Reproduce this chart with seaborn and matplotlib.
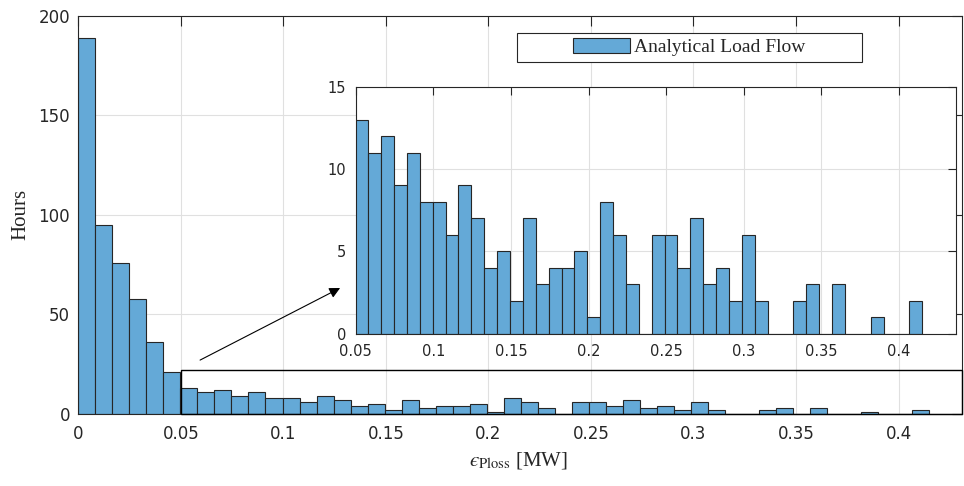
import numpy as np
import pandas as pd
import matplotlib
matplotlib.use("Agg")
import matplotlib.pyplot as plt
import seaborn as sns
from matplotlib.patches import Rectangle, Patch
from matplotlib.ticker import FuncFormatter

# Histogram of the power-loss error: hours per bin (bins of width 0.0083 MW from 0)
bin_width = 0.0083
hours = [189, 95, 76, 58, 36, 21,
         13, 11, 12, 9, 11, 8, 8, 6, 9, 7, 4, 5, 2, 7, 3, 4, 4, 5, 1, 8, 6, 3,
         0, 6, 6, 4, 7, 3, 4, 2, 6, 2,
         0, 0, 2, 3, 0, 3, 0, 0, 1, 0, 0, 2]
series_label = "Analytical Load Flow"
xlabel_text = "$\u03f5_{\\mathrm{Ploss}}$ [MW]"
ylabel_text = "Hours"

main_xticks = [0, 0.05, 0.1, 0.15, 0.2, 0.25, 0.3, 0.35, 0.4]
main_yticks = [0, 50, 100, 150, 200]
inset_xticks = [0.05, 0.1, 0.15, 0.2, 0.25, 0.3, 0.35, 0.4]
inset_yticks = [0, 5, 10, 15]

# zoomed region shown in the inset
zoom_start = 0.05
zoom_top = 22

bin_edges = [i * bin_width for i in range(len(hours) + 1)]
centers = [e + bin_width / 2 for e in bin_edges[:-1]]
df = pd.DataFrame({"eps": centers, "hours": hours})
first_zoom_bin = int(round(zoom_start / bin_width))
df_zoom = df.iloc[first_zoom_bin:]

sns.set_style("white")
plt.rcParams["font.family"] = ["DejaVu Sans"]
plt.rcParams["mathtext.fontset"] = "stix"

face = "#64A9D7"
edge = "#262626"
axis_col = "#262626"
grid_col = "#e0e0e0"
serif = ["Liberation Serif", "DejaVu Serif"]

fig = plt.figure(figsize=(9.64, 4.86), dpi=100)
ax = fig.add_axes([0.0812, 0.148, 0.998 - 0.0812, 0.9677 - 0.148])

sns.histplot(data=df, x="eps", weights="hours", bins=bin_edges, ax=ax,
             color=face, alpha=1, edgecolor=edge, linewidth=0.8)

xmax_main = 0.431
ax.set_xlim(0, xmax_main)
ax.set_ylim(0, 200)
ax.set_xticks(main_xticks)
ax.set_yticks(main_yticks)
fmt = FuncFormatter(lambda v, p: f"{v:g}")
ax.xaxis.set_major_formatter(fmt)
ax.yaxis.set_major_formatter(fmt)
ax.tick_params(direction="in", top=True, right=True, length=7, width=0.8,
               labelsize=12, colors=axis_col, labelcolor="#262626")
ax.tick_params(axis="x", pad=8)
ax.tick_params(axis="y", pad=6)
ax.grid(True, color=grid_col, linewidth=0.8)
ax.set_axisbelow(True)
for s in ax.spines.values():
    s.set_color(axis_col)
    s.set_linewidth(0.8)

ax.set_xlabel(xlabel_text, fontsize=15, family=serif, color="#262626", va="top")
ax.set_ylabel(ylabel_text, fontsize=15, family=serif, color="#262626")
ax.xaxis.set_label_coords(0.4976, -0.09)
ax.yaxis.set_label_coords(-0.054, 0.5)

# outline of the zoomed region and pointer to the inset
ax.add_patch(Rectangle((zoom_start, 0), xmax_main - zoom_start, zoom_top,
                       fill=False, edgecolor="black", linewidth=1.0, zorder=3,
                       clip_on=False))
ax.annotate("", xy=(0.1277, 63.3), xytext=(0.0594, 27.1),
            arrowprops=dict(arrowstyle="-|>", color="black", lw=0.8,
                            mutation_scale=16, shrinkA=0, shrinkB=0))

# legend with a wide boxed frame
ax.add_patch(Rectangle((0.4964, 0.8838), 0.8868 - 0.4964, 0.9566 - 0.8838,
                       transform=ax.transAxes, facecolor="white",
                       edgecolor="#262626", linewidth=0.8, zorder=4))
handle = Patch(facecolor=face, edgecolor=edge, linewidth=0.8)
leg = ax.legend(handles=[handle], labels=[series_label], loc="center left",
                bbox_to_anchor=(0.5598, 0.921), frameon=False, borderpad=0,
                borderaxespad=0, handlelength=2.95, handleheight=0.8,
                handletextpad=0.2, prop={"family": serif, "size": 14})
leg.set_zorder(5)

# inset with the tail of the distribution
axin = fig.add_axes([0.369, 0.3128, 0.9914 - 0.369, 0.822 - 0.3128])
axin.set_facecolor("white")
sns.histplot(data=df_zoom, x="eps", weights="hours",
             bins=bin_edges[first_zoom_bin:], ax=axin,
             color=face, alpha=1, edgecolor=edge, linewidth=0.8)
axin.set_xlim(zoom_start, 0.4366)
axin.set_ylim(0, 15)
axin.set_xticks(inset_xticks)
axin.set_yticks(inset_yticks)
axin.xaxis.set_major_formatter(fmt)
axin.yaxis.set_major_formatter(fmt)
axin.tick_params(direction="in", top=True, right=True, length=6, width=0.8,
                 labelsize=10.5, colors=axis_col, labelcolor="#262626")
axin.tick_params(axis="x", pad=7)
axin.tick_params(axis="y", pad=7)
axin.grid(True, color=grid_col, linewidth=0.8)
axin.set_axisbelow(True)
axin.set_xlabel("")
axin.set_ylabel("")
for s in axin.spines.values():
    s.set_color(axis_col)
    s.set_linewidth(0.8)

fig.savefig("out.png", dpi=100)
